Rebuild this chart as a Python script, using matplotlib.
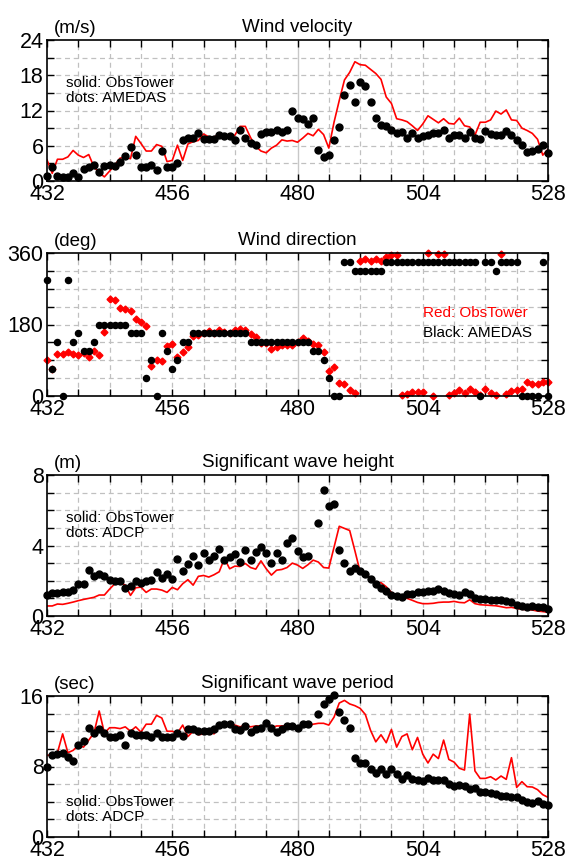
import numpy as np
import matplotlib
matplotlib.use('Agg')
from matplotlib import pyplot as plt

plt.rcParams['font.family'] = ['Liberation Sans', 'DejaVu Sans']

hours = np.arange(432, 529)
nan = np.nan

# Wind velocity (m/s)
wind_tower = [3.6, 1.3, 3.7, 3.7, 4.1, 5.2, 4.4, 4.0, 4.5, 2.4,
              1.4, 0.7, 1.7, 2.7, 3.9, 4.0, 3.8, 7.6, 6.4, 5.1,
              5.1, 6.2, 5.9, 3.3, 3.5, 6.1, 3.5, 6.3, 6.7, 6.9,
              8.0, 7.5, 7.5, 7.9, 7.6, 7.4, 7.8, 9.3, 9.3, 7.4,
              5.9, 5.1, 4.8, 5.6, 6.1, 7.0, 6.8, 6.9,
              6.6, 7.3, 8.1, 7.7, 8.8, 7.9, 5.6, 10.0, 13.7, 17.2,
              18.5, 20.3, 19.8, 19.7, 19.0, 18.3, 17.3, 14.3, 13.2, 10.6,
              10.4, 10.1, 9.4, 8.6, 9.7, 11.1, 10.5, 9.9, 10.6, 9.8,
              9.7, 10.7, 9.4, 9.2, 7.8, 10.0, 10.0, 10.4, 11.9, 11.4,
              12.1, 10.4, 10.3, 9.0, 8.6, 8.1, 7.1, 4.4, 5.4]
wind_amedas = [0.8, 2.3, 0.85, 0.6, 0.6, 1.3, 0.6, 2.1, 2.3, 2.8,
               1.6, 2.5, 2.7, 2.5, 3.3, 4.3, 5.8, 4.4, 2.4, 2.4,
               2.8, 1.8, 5.1, 2.4, 2.3, 3.1, 7.0, 7.4, 7.3, 8.2,
               7.1, 7.2, 7.1, 7.9, 7.6, 7.6, 7.0, 8.7, 7.4, 6.5,
               6.2, 8.0, 8.3, 8.3, 8.6, 8.4, 8.7, 12.0,
               10.8, 10.6, 9.7, 10.7, 5.2, 4.1, 4.5, 7.0, 9.2, 14.7,
               16.4, 13.4, 16.9, 16.2, 13.4, 10.8, 9.6, 9.4, 8.6, 8.2,
               8.4, 7.4, 8.2, 7.4, 7.6, 7.8, 8.2, 8.1, 8.6, 7.4,
               7.9, 7.8, 7.4, 8.4, 7.3, 7.1, 8.5, 8.0, 7.9, 7.9,
               8.5, 7.9, 7.0, 6.2, 4.9, 5.1, 5.4, 6.2, 4.7]

# Wind direction (deg)
dir_tower = [91, 67, 106, 106, 110, 106, 102, 108, 98, 113,
             102, 161, 245, 241, 222, 220, 213, 193, 186, 177,
             75, 91, 89, 127, 130, 99, 110, 123, 150, 153,
             158, 163, 158, 165, 160, 158, 165, 168, 165, 156,
             149, 134, 134, 119, 124, 128, 129, 128,
             135, 146, 138, 132, 128, 110, 64, 73, 33, 30,
             14, 8, 339, 346, 341, 346, 339, 349, 356, 356,
             3, 6, 10, 9, 10, 359, 0, 358, 358, 3,
             7, 15, 7, 17, 10, 2, 18, 7, 2, 358,
             5, 13, 16, 18, 35, 30, 29, 36, 34]
dir_amedas = [292.5, 67.5, 135, 0, 292.5, 135, 157.5, 112.5, 112.5, 135,
              180, 180, 180, 180, 180, 180, 157.5, 157.5, 157.5,
              45, 90, 0, 157.5, 112.5, 67.5, 90, 135, 135,
              157.5, 157.5, 157.5, 157.5, 157.5, 157.5, 157.5, 157.5, 157.5, 157.5, 157.5,
              135, 135, 135, 135, 135, 135, 135, 135, 135, 135, 135, 135,
              112.5, 112.5, 90, 45, 0, 0,
              337.5, 337.5,
              315, 315, 315, 315, 315, 315,
              337.5, 337.5, 337.5, 337.5, 337.5, 337.5, 337.5, 337.5, 337.5,
              337.5, 337.5, 337.5, 337.5, 337.5, 337.5, 337.5, 337.5, 337.5,
              0, 337.5, 337.5, 315, 337.5, 337.5, 337.5, 337.5,
              0, 0, 0, 0, 337.5, 0]

# Significant wave height (m)
hs_tower = [0.57, 0.57, 0.68, 0.66, 0.72, 0.79, 0.87, 0.94, 1.00, 1.06,
            1.19, 1.19, 1.53, 1.83, 1.92, 1.75, 1.17, 1.60, 1.64, 1.34,
            1.53, 1.53, 1.47, 1.34, 1.62, 1.49, 1.83, 2.06, 1.75, 2.25,
            2.30, 2.21, 2.34, 2.51, 3.26, 2.68, 2.83, 2.81, 2.98, 2.75,
            2.66, 3.13, 2.68, 2.32, 2.60, 2.64, 2.75, 3.00,
            2.89, 2.70, 2.91, 3.17, 3.06, 2.75, 2.72, 3.9, 5.09, 4.97,
            4.85, 3.7, 2.51, 2.42, 2.13, 1.90, 1.89, 1.66, 1.34, 1.19,
            1.09, 1.00, 0.89, 0.77, 0.70, 0.70, 0.72, 0.77, 0.79, 0.79,
            0.83, 0.77, 0.75, 0.92, 0.70, 0.64, 0.62, 0.60, 0.58, 0.53,
            0.47, 0.49, 0.43, 0.38, 0.36, 0.34, 0.28, 0.25, 0.21]
hs_adcp = [1.19, 1.30, 1.30, 1.34, 1.36, 1.47, 1.79, 1.83, 2.60, 2.25,
           2.36, 2.26, 2.02, 1.98, 1.98, 1.60, 1.70, 1.96, 1.87, 1.98,
           2.02, 2.47, 2.15, 2.36, 2.09, 3.21, 2.53, 2.96, 3.38, 2.92,
           3.57, 3.17, 3.42, 3.79, 3.19, 3.32, 3.49, 3.06, 3.72, 3.15,
           3.64, 3.91, 3.55, 3.00, 3.55, 3.19, 4.13, 4.42,
           3.70, 3.36, 3.42, nan, 5.28, 7.13, 6.23, 6.36, 3.72, 2.98,
           2.55, 2.70, 2.58, 2.38, 2.08, 1.83, 1.58, 1.42, 1.21, 1.11,
           1.08, 1.23, 1.23, 1.34, 1.34, 1.40, 1.40, 1.53, 1.43, 1.28,
           1.23, 1.17, 1.34, 1.23, 1.04, 0.98, 0.96, 0.91, 0.89, 0.89,
           0.85, 0.77, 0.62, 0.55, 0.51, 0.57, 0.51, 0.49, 0.42]

# Significant wave period (sec)
tp_tower = [9.26, 9.34, 9.57, 11.7, 9.57, 9.83, 10.4, 10.2, 11.0, 11.8,
            14.3, 11.8, 12.4, 12.4, 12.3, 12.5, 12.0, 12.5, 11.9, 12.8,
            12.8, 13.8, 13.5, 12.0, 12.0, 11.8, 12.7, 11.4, 12.0, 11.6,
            11.7, 12.0, 11.7, 12.6, 12.7, 12.9, 12.7, 12.5, 12.7, 12.5,
            12.6, 12.6, 12.7, 12.4, 12.6, 12.6, 12.6, 12.6,
            12.5, 12.7, 12.6, 12.8, 12.9, 12.9, 12.7, 13.6, 15.2, 15.5,
            15.1, 14.9, 14.6, 13.9, 12.1, 10.8, 11.6, 10.7, 12.2, 10.2,
            11.4, 11.7, 9.9, 11.3, 9.4, 8.4, 9.4, 8.9, 11.0, 8.8,
            8.5, 7.8, 7.6, 13.95, 7.5, 6.65, 6.65, 6.84, 6.47, 6.92,
            6.54, 9.0, 5.63, 6.28, 5.71, 5.67, 5.37, 4.80, 4.50]
tp_adcp = [7.98, 9.26, 9.41, 9.49, 9.11, 8.66, 10.4, 10.9, 12.4, 11.8,
           12.3, 11.8, 11.3, 11.4, 11.6, 10.4, 11.8, 11.6, 11.6, 11.6,
           11.4, 11.8, 11.3, 11.3, 11.3, 11.8, 11.5, 12.2, 12.2, 12.0,
           12.0, 12.0, 12.2, 12.7, 12.8, 12.8, 12.3, 12.1, 12.6, 11.9,
           12.3, 12.4, 12.9, 12.4, 11.9, 12.3, 12.6, 12.6,
           12.4, 12.8, 12.8, nan, 14.0, 15.1, 15.7, 16.1, 14.2, 13.3,
           12.4, 9.0, 8.4, 8.4, 7.7, 7.3, 7.7, 7.2, 7.7, 7.1,
           6.6, 7.0, 6.6, 6.5, 6.4, 6.7, 6.5, 6.5, 6.5, 6.0,
           5.8, 5.9, 5.8, 5.5, 5.6, 5.1, 5.1, 5.0, 4.9, 4.7,
           4.7, 4.5, 4.5, 4.2, 3.97, 3.86, 4.08, 3.78, 3.67]

x_major = [432, 456, 480, 504, 528]
x_minor = [438, 444, 450, 462, 468, 474, 486, 492, 498, 510, 516, 522]

W, H = 567, 861
fig = plt.figure(figsize=(W / 100, H / 100), dpi=100)


def make_axes(top, bottom, ymax, ystep, ylabels, title):
    ax = fig.add_axes([47 / W, 1 - bottom / H, 501 / W, (bottom - top) / H])
    ax.set_xlim(432, 528)
    ax.set_ylim(0, ymax)
    ax.set_xticks(x_major)
    ax.set_xticks(x_minor, minor=True)
    ax.set_yticks(ylabels)
    ax.set_yticks(np.arange(0, ymax + ystep / 2, ystep), minor=True)
    ax.tick_params(which='both', direction='in', top=True, right=True,
                   length=5, width=1.0)
    ax.tick_params(which='major', labelsize=15.5, pad=2.5)
    ax.set_xticklabels([str(v) for v in x_major])
    ax.set_yticklabels([f'{v:g}' for v in ylabels])
    for v in x_major + x_minor:
        if v in (432, 528):
            continue
        if v == 480:
            ax.axvline(v, color='#c8c8c8', lw=1.0, zorder=0)
        else:
            ax.axvline(v, color='#c0c0c0', lw=0.9, ls=(0, (4, 3)), zorder=0)
    for v in np.arange(ystep, ymax, ystep):
        ax.axhline(v, color='#c0c0c0', lw=0.9, ls=(0, (4, 3)), zorder=0)
    for s in ax.spines.values():
        s.set_linewidth(1.2)
    ax.set_title(title, fontsize=13.5, pad=6)
    return ax


# Panel 1: wind velocity
ax1 = make_axes(40, 181, 24, 3, [0, 6, 12, 18, 24], 'Wind velocity')
ax1.plot(hours, wind_tower, color='red', lw=1.2)
ax1.plot(hours, wind_amedas, 'o', color='black', ms=5.0, clip_on=False)
ax1.text(0.038, 0.665, 'solid: ObsTower', transform=ax1.transAxes, fontsize=11)
ax1.text(0.038, 0.56, 'dots: AMEDAS', transform=ax1.transAxes, fontsize=11)
fig.text(54 / W, 1 - 33 / H, '(m/s)', fontsize=13.5, ha='left', va='baseline')

# Panel 2: wind direction
ax2 = make_axes(253, 396, 360, 45, [0, 180, 360], 'Wind direction')
ax2.plot(hours, dir_tower, 'D', color='red', ms=3.5, clip_on=False)
ax2.plot(hours, dir_amedas, 'o', color='black', ms=4.4, clip_on=False)
ax2.text(0.75, 0.555, 'Red: ObsTower', transform=ax2.transAxes, fontsize=11,
         color='red')
ax2.text(0.75, 0.415, 'Black: AMEDAS', transform=ax2.transAxes, fontsize=11)
fig.text(54 / W, 1 - 246 / H, '(deg)', fontsize=13.5, ha='left', va='baseline')

# Panel 3: significant wave height
ax3 = make_axes(475, 616, 8, 1, [0, 4, 8], 'Significant wave height')
ax3.plot(hours, hs_tower, color='red', lw=1.2)
ax3.plot(hours, hs_adcp, 'o', color='black', ms=5.0, clip_on=False)
ax3.text(0.038, 0.665, 'solid: ObsTower', transform=ax3.transAxes, fontsize=11)
ax3.text(0.038, 0.56, 'dots: ADCP', transform=ax3.transAxes, fontsize=11)
fig.text(54 / W, 1 - 468 / H, '(m)', fontsize=13.5, ha='left', va='baseline')

# Panel 4: significant wave period
ax4 = make_axes(696, 837, 16, 2, [0, 8, 16], 'Significant wave period')
ax4.plot(hours, tp_tower, color='red', lw=1.2)
ax4.plot(hours, tp_adcp, 'o', color='black', ms=5.0, clip_on=False)
ax4.text(0.038, 0.22, 'solid: ObsTower', transform=ax4.transAxes, fontsize=11)
ax4.text(0.038, 0.115, 'dots: ADCP', transform=ax4.transAxes, fontsize=11)
fig.text(54 / W, 1 - 689 / H, '(sec)', fontsize=13.5, ha='left', va='baseline')

fig.savefig('out.png', dpi=100)
